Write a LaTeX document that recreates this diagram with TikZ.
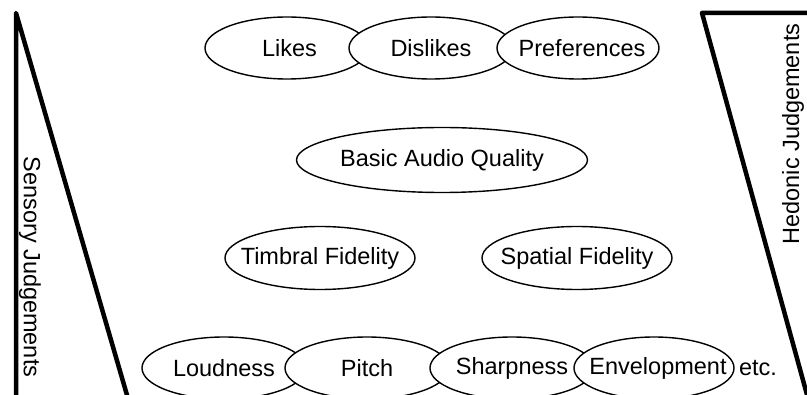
\documentclass[tikz,border=0pt]{standalone}
\usepackage{fontspec}
\setmainfont{Liberation Sans}
\usetikzlibrary{shapes.geometric}

\tikzset{
  oval/.style={draw, ellipse, line width=1.4pt, fill=white, inner sep=0pt,
               minimum width=#1, minimum height=62pt, font=\fontsize{23.5}{26}\selectfont},
  oval/.default=162pt,
  side/.style={draw, line width=4.5pt, line join=round},
  sidelabel/.style={font=\fontsize{23.5}{26}\selectfont, inner sep=0pt},
  plain/.style={font=\fontsize{23.5}{26}\selectfont, inner sep=0pt}
}

\begin{document}
\begin{tikzpicture}[x=1pt, y=-1pt]
  \useasboundingbox (0,0) rectangle (807,395);

  % sensory wedge on the left, hedonic wedge on the right
  \draw[side] (16,402) -- (16,13) -- (129,402) -- cycle;
  \draw[side] (830,13) -- (702,13) -- (809,402);

  \node[sidelabel, rotate=-90] (sens) at (30,267) {Sensory Judgements};
  \node[sidelabel, rotate=90]  (hed)  at (793,134) {Hedonic Judgements};

  % top row
  \node[oval=164pt] (likes) at (287,48) {\makebox[0pt]{\hspace{5pt}Likes}};
  \node[oval=164pt] (dislikes) at (431,48) {\makebox[0pt]{Dislikes}};
  \node[oval=162pt] (prefs) at (578,48) {\makebox[0pt]{\hspace{8pt}Preferences}};

  % overall quality
  \node[oval=291pt, minimum height=65pt] (baq) at (442,160) {\makebox[0pt]{Basic Audio Quality}};

  % fidelity attributes
  \node[oval=190pt, minimum height=63pt] (timbral) at (320,258) {\makebox[0pt]{Timbral Fidelity}};
  \node[oval=190pt, minimum height=63pt] (spatial) at (577,258) {\makebox[0pt]{Spatial Fidelity}};

  % low-level attributes
  \node[oval=164pt] (loud) at (224,368) {\makebox[0pt]{Loudness}};
  \node[oval=164pt] (pitch) at (367,368) {\makebox[0pt]{Pitch}};
  \node[oval=164pt] (sharp) at (512,368) {\makebox[0pt]{Sharpness}};
  \node[oval=160pt] (env) at (654,368) {\makebox[0pt]{\hspace{8pt}Envelopment}};
  \node[plain] (etc) at (758,368) {etc.};
\end{tikzpicture}
\end{document}
